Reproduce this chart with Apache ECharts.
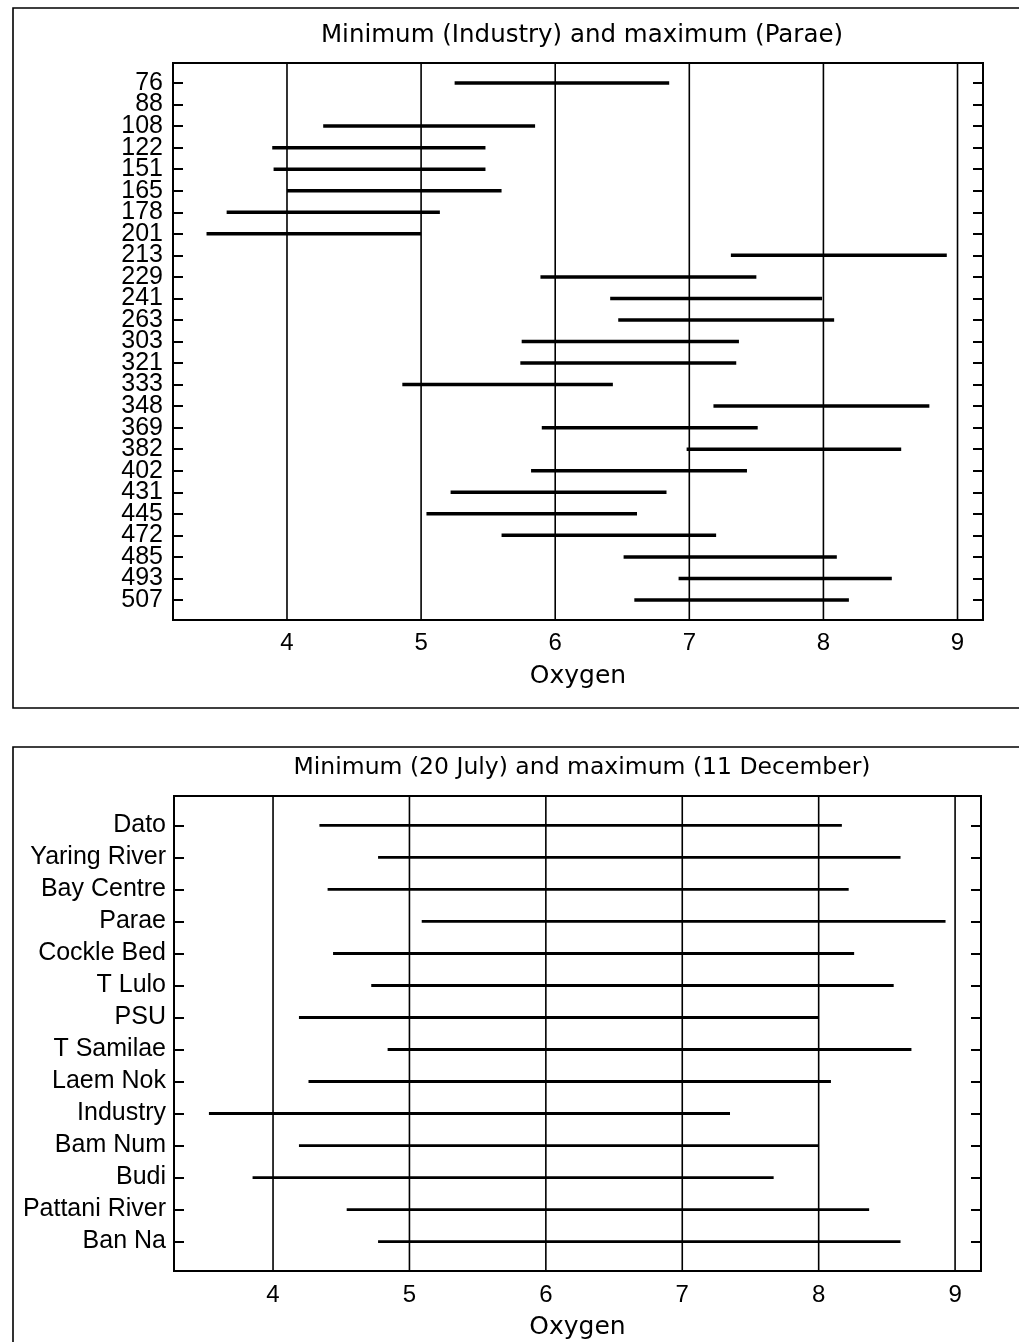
<!DOCTYPE html>
<html>
<head>
<meta charset="utf-8">
<script src="https://cdn.jsdelivr.net/npm/echarts@6/dist/echarts.min.js"></script>
<style>
  html, body { margin: 0; padding: 0; background: #fff; }
  #chart { width: 1019px; height: 1342px; }
</style>
</head>
<body>
<div id="chart"></div>
<script>
// Upper panel: oxygen range for each sampling day
const dayLabels = ['76', '88', '108', '122', '151', '165', '178', '201', '213', '229', '241', '263',
  '303', '321', '333', '348', '369', '382', '402', '431', '445', '472', '485', '493', '507'];
const dayMin = [5.25, null, 4.27, 3.89, 3.90, 4.00, 3.55, 3.40, 7.31, 5.89, 6.41, 6.47,
  5.75, 5.74, 4.86, 7.18, 5.90, 6.98, 5.82, 5.22, 5.04, 5.60, 6.51, 6.92, 6.59];
const dayMax = [6.85, null, 5.85, 5.48, 5.48, 5.60, 5.14, 5.00, 8.92, 7.50, 7.99, 8.08,
  7.37, 7.35, 6.43, 8.79, 7.51, 8.58, 7.43, 6.83, 6.61, 7.20, 8.10, 8.51, 8.19];

// Lower panel: oxygen range for each station
const stationNames = ['Dato', 'Yaring River', 'Bay Centre', 'Parae', 'Cockle Bed', 'T Lulo', 'PSU',
  'T Samilae', 'Laem Nok', 'Industry', 'Bam Num', 'Budi', 'Pattani River', 'Ban Na'];
const stationMin = [4.34, 4.77, 4.40, 5.09, 4.44, 4.72, 4.19, 4.84, 4.26, 3.53, 4.19, 3.85, 4.54, 4.77];
const stationMax = [8.17, 8.60, 8.22, 8.93, 8.26, 8.55, 8.00, 8.68, 8.09, 7.35, 8.00, 7.67, 8.37, 8.60];

const oxygenTicks = [4, 5, 6, 7, 8, 9];

const TITLE_FONT = '"DejaVu Sans", sans-serif';
const LABEL_FONT = '"Liberation Sans", Arial, sans-serif';

const chart = echarts.init(document.getElementById('chart'), null, { renderer: 'canvas' });

function rangeData(mins, maxs) {
  const out = [];
  mins.forEach((lo, i) => {
    if (lo != null && maxs[i] != null) out.push([i, lo, maxs[i]]);
  });
  return out;
}

// yAxis layout: per panel three axes -> [left ticks + even labels, left odd labels, right ticks]
const Y_PER_GRID = 3;

function rangeSeries(gridIdx, mins, maxs, width) {
  return {
    type: 'custom',
    xAxisIndex: gridIdx,
    yAxisIndex: gridIdx * Y_PER_GRID,
    z: 5,
    encode: { x: [1, 2], y: 0 },
    data: rangeData(mins, maxs),
    renderItem(params, api) {
      const y = api.value(0);
      const p1 = api.coord([api.value(1), y]);
      const p2 = api.coord([api.value(2), y]);
      return {
        type: 'line',
        shape: { x1: p1[0], y1: p1[1], x2: p2[0], y2: p2[1] },
        style: { stroke: '#000', lineWidth: width, lineCap: 'butt' }
      };
    }
  };
}

function gridLineSeries(gridIdx) {
  return {
    type: 'custom',
    xAxisIndex: gridIdx,
    yAxisIndex: gridIdx * Y_PER_GRID,
    z: 2,
    encode: { x: 0, y: 1 },
    data: oxygenTicks.map(v => [v, 0]),
    renderItem(params, api) {
      const x = api.coord([api.value(0), 0])[0];
      const cs = params.coordSys;
      return {
        type: 'line',
        shape: { x1: x, y1: cs.y, x2: x, y2: cs.y + cs.height },
        style: { stroke: '#000', lineWidth: 1.6 }
      };
    }
  };
}

function xAxisFor(gridIdx, min, max, margin, nameGap) {
  return {
    gridIndex: gridIdx,
    type: 'value',
    min: min,
    max: max,
    axisLine: { show: false },
    axisTick: { show: false },
    splitLine: { show: false },
    axisLabel: {
      customValues: oxygenTicks,
      margin: margin,
      fontSize: 24,
      fontFamily: LABEL_FONT,
      color: '#000'
    },
    name: 'Oxygen',
    nameLocation: 'middle',
    nameGap: nameGap,
    nameTextStyle: { fontSize: 25, fontFamily: TITLE_FONT, color: '#000' }
  };
}

function yAxesFor(gridIdx, labels, pad, labelMargin, fontSize) {
  const idx = labels.map((_, i) => i);
  const evenIdx = idx.filter(i => i % 2 === 0);
  const oddIdx = idx.filter(i => i % 2 === 1);
  const base = {
    gridIndex: gridIdx,
    type: 'value',
    inverse: true,
    min: -pad,
    max: labels.length - 1 + pad,
    axisLine: { show: false },
    splitLine: { show: false }
  };
  const tickStyle = {
    show: true,
    inside: true,
    length: 10,
    customValues: idx,
    lineStyle: { color: '#000', width: 2 }
  };
  const labelStyle = values => ({
    customValues: values,
    formatter: v => labels[Math.round(v)],
    showMinLabel: true,
    showMaxLabel: true,
    margin: labelMargin,
    fontSize: fontSize,
    fontFamily: LABEL_FONT,
    color: '#000'
  });
  return [
    Object.assign({}, base, { position: 'left', axisTick: tickStyle, axisLabel: labelStyle(evenIdx) }),
    Object.assign({}, base, { position: 'left', offset: 0, axisTick: { show: false }, axisLabel: labelStyle(oddIdx) }),
    Object.assign({}, base, { position: 'right', axisTick: tickStyle, axisLabel: { show: false } })
  ];
}

const option = {
  backgroundColor: '#fff',
  animation: false,
  title: [
    {
      text: 'Minimum (Industry) and maximum (Parae)',
      left: 577, top: 18, textAlign: 'center',
      textStyle: { fontSize: 24.5, fontWeight: 'normal', fontFamily: TITLE_FONT, color: '#000' }
    },
    {
      text: 'Minimum (20 July) and maximum (11 December)',
      left: 577, top: 751, textAlign: 'center',
      textStyle: { fontSize: 23.5, fontWeight: 'normal', fontFamily: TITLE_FONT, color: '#000' }
    }
  ],
  graphic: [
    {
      type: 'rect', silent: true, z: 0,
      shape: { x: 13, y: 8, width: 1030, height: 700 },
      style: { fill: 'none', stroke: '#000', lineWidth: 1.6 }
    },
    {
      type: 'rect', silent: true, z: 0,
      shape: { x: 13, y: 747, width: 1030, height: 640 },
      style: { fill: 'none', stroke: '#000', lineWidth: 1.6 }
    }
  ],
  grid: [
    { left: 173, top: 63, right: 36, bottom: 722, show: true, borderColor: '#000', borderWidth: 2, backgroundColor: 'transparent' },
    { left: 174, top: 796, right: 38, bottom: 71, show: true, borderColor: '#000', borderWidth: 2, backgroundColor: 'transparent' }
  ],
  xAxis: [
    xAxisFor(0, 3.15, 9.19, 11, 44),
    xAxisFor(1, 3.274, 9.19, 12, 44)
  ],
  yAxis: [
    ...yAxesFor(0, dayLabels, 0.93, 10, 25),
    ...yAxesFor(1, stationNames, 0.92, 8, 25)
  ],
  series: [
    gridLineSeries(0),
    rangeSeries(0, dayMin, dayMax, 3.5),
    gridLineSeries(1),
    rangeSeries(1, stationMin, stationMax, 2.8)
  ]
};

chart.setOption(option);
</script>
</body>
</html>
